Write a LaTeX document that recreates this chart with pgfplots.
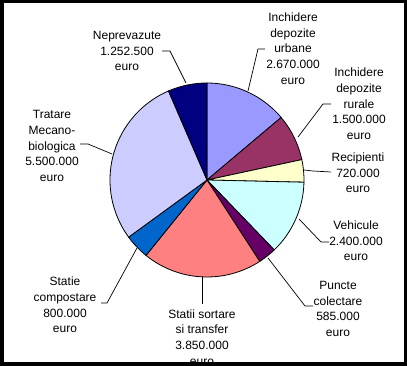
\documentclass[border=0pt]{standalone}
\usepackage{fontspec}
\setmainfont{Liberation Sans}
\usepackage{pgfplots}
\pgfplotsset{compat=1.18}
\usepackage{pgfplotstable}

\definecolor{c0}{HTML}{9999FF}
\definecolor{c1}{HTML}{993366}
\definecolor{c2}{HTML}{FFFFCC}
\definecolor{c3}{HTML}{CCFFFF}
\definecolor{c4}{HTML}{660066}
\definecolor{c5}{HTML}{FF8080}
\definecolor{c6}{HTML}{0066CC}
\definecolor{c7}{HTML}{CCCCFF}
\definecolor{c8}{HTML}{000080}

\tikzset{lab/.style={font=\fontsize{12}{15.7}\selectfont,align=center,inner sep=0pt}}

% values in million euro
\pgfplotstableread{
value
2.67
1.5
0.72
2.4
0.585
3.85
0.8
5.5
1.2525
}\piedata

\begin{document}
\begin{tikzpicture}
\begin{axis}[name=ax,x=1pt,y=1pt,xmin=0,xmax=407,ymin=0,ymax=366,
  hide axis,clip=false]
\def\total{0}
\pgfplotsforeachungrouped \i in {0,...,8}{%
  \pgfplotstablegetelem{\i}{value}\of\piedata
  \pgfmathsetmacro\total{\total+\pgfplotsretval}%
}
\def\cum{0}
\pgfplotsforeachungrouped \i in {0,...,8}{%
  \pgfplotstablegetelem{\i}{value}\of\piedata
  \let\myv\pgfplotsretval
  \pgfmathsetmacro\sa{90-360*\cum/\total}%
  \pgfmathsetmacro\cum{\cum+\myv}%
  \pgfmathsetmacro\ea{90-360*\cum/\total}%
  \edef\cmd{\noexpand\filldraw[fill=c\i,draw=black,line width=0.8pt] (axis cs:207,186) -- ++(\sa:97pt) arc[start angle=\sa,end angle=\ea,radius=97pt] -- cycle;}%
  \cmd
}
% leader lines
\draw[line width=0.7pt] (axis cs:162,315) -- (axis cs:170,315) -- (axis cs:186,283);
\draw[line width=0.7pt] (axis cs:265,317) -- (axis cs:258,317) -- (axis cs:248,275);
\draw[line width=0.7pt] (axis cs:331,262) -- (axis cs:323,262) -- (axis cs:298,229);
\draw[line width=0.7pt] (axis cs:304,196) -- (axis cs:313,195) -- (axis cs:331,194);
\draw[line width=0.7pt] (axis cs:299,147) -- (axis cs:321,124) -- (axis cs:329,124);
\draw[line width=0.7pt] (axis cs:268,108) -- (axis cs:305,60) -- (axis cs:313,60);
\draw[line width=0.7pt] (axis cs:202,89) -- (axis cs:202,62);
\draw[line width=0.7pt] (axis cs:137,118) -- (axis cs:107,63) -- (axis cs:101,63);
\draw[line width=0.7pt] (axis cs:80,222) -- (axis cs:88,222) -- (axis cs:112,212);
% labels
\node[lab] at (axis cs:127,315) {Neprevazute\\1.252.500\\euro};
\node[lab] at (axis cs:293,317.4) {Inchidere\\depozite\\urbane\\2.670.000\\euro};
\node[lab] at (axis cs:359,262) {Inchidere\\depozite\\rurale\\1.500.000\\euro};
\node[lab] at (axis cs:358,193) {Recipienti\\720.000\\euro};
\node[lab] at (axis cs:356,125) {Vehicule\\2.400.000\\euro};
\node[lab] at (axis cs:338,57) {Puncte\\colectare\\585.000\\euro};
\node[lab] at (axis cs:202,28.5) {Statii sortare\\si transfer\\3.850.000\\euro};
\node[lab] at (axis cs:65,61) {Statie\\compostare\\800.000\\euro};
\node[lab] at (axis cs:52,220) {Tratare\\Mecano-\\biologica\\5.500.000\\euro};
% frame
\draw[line width=3.5pt] (axis cs:1.75,1.75) rectangle (axis cs:405.25,364.25);
\end{axis}
\pgfresetboundingbox
\useasboundingbox (ax.south west) rectangle (ax.north east);
\end{tikzpicture}
\end{document}
